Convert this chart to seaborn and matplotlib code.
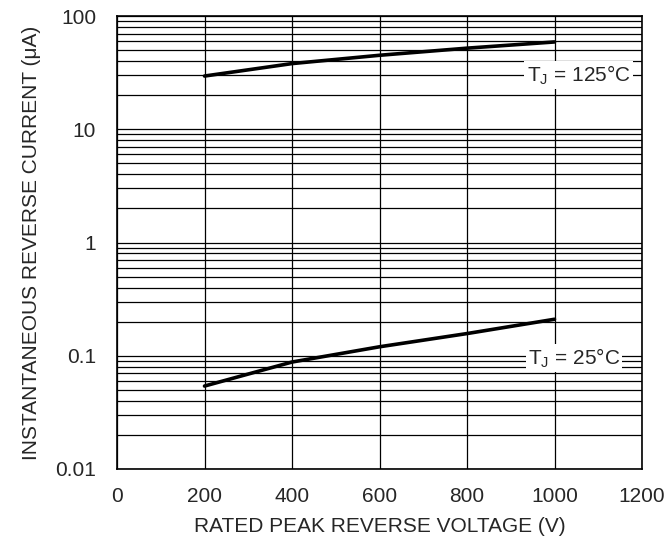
import matplotlib
matplotlib.use("Agg")
import matplotlib.pyplot as plt
import seaborn as sns
import pandas as pd
import numpy as np
from matplotlib.ticker import LogLocator, FixedLocator, NullFormatter

sns.set_style("white")
plt.rcParams['font.family'] = ['Liberation Sans', 'DejaVu Sans']

voltage = [200, 400, 600, 800, 1000]
current_125 = [29.5, 38.0, 45.0, 52.0, 59.0]
current_25 = [0.054, 0.088, 0.12, 0.157, 0.21]
x_ticks = [0, 200, 400, 600, 800, 1000, 1200]
y_ticks = [0.01, 0.1, 1, 10, 100]
y_tick_labels = ["0.01", "0.1", "1", "10", "100"]

df = pd.DataFrame({
    "V": voltage * 2,
    "I": current_125 + current_25,
    "T": ["125"] * len(voltage) + ["25"] * len(voltage),
})

fig = plt.figure(figsize=(6.66, 5.4), dpi=100)
ax = fig.add_axes([117/666, (540-469)/540, (642-117)/666, (469-16)/540])

ax.set_yscale("log")
ax.set_xlim(0, 1200)
ax.set_ylim(0.01, 100)

sns.lineplot(data=df, x="V", y="I", units="T", estimator=None, color="black",
             linewidth=2.6, ax=ax, legend=False, zorder=3)

ax.xaxis.set_major_locator(FixedLocator(x_ticks))
ax.set_xticklabels([str(v) for v in x_ticks])
ax.yaxis.set_major_locator(FixedLocator(y_ticks))
ax.set_yticklabels(y_tick_labels)
ax.yaxis.set_minor_locator(LogLocator(base=10, subs=np.arange(2, 10), numticks=20))
ax.yaxis.set_minor_formatter(NullFormatter())

ax.grid(True, which="major", axis="both", color="black", linewidth=0.9)
ax.grid(True, which="minor", axis="y", color="black", linewidth=0.9)
ax.tick_params(axis="both", which="both", length=0, labelsize=15)
ax.tick_params(axis="x", pad=13)
ax.tick_params(axis="y", pad=15)
for s in ax.spines.values():
    s.set_color("black")
    s.set_linewidth(1.2)

ax.set_xlabel("RATED PEAK REVERSE VOLTAGE (V)", fontsize=15, labelpad=8)
ax.set_ylabel("INSTANTANEOUS REVERSE CURRENT (μA)", fontsize=15, labelpad=10)

box = dict(facecolor="white", edgecolor="none", pad=1.5)
ax.text(1055, 30, "T$_\\mathregular{J}$ = 125°C", fontsize=15, ha="center", va="center", bbox=box, zorder=4)
ax.text(1045, 0.095, "T$_\\mathregular{J}$ = 25°C", fontsize=15, ha="center", va="center", bbox=box, zorder=4)

fig.savefig("out.png", dpi=100)
